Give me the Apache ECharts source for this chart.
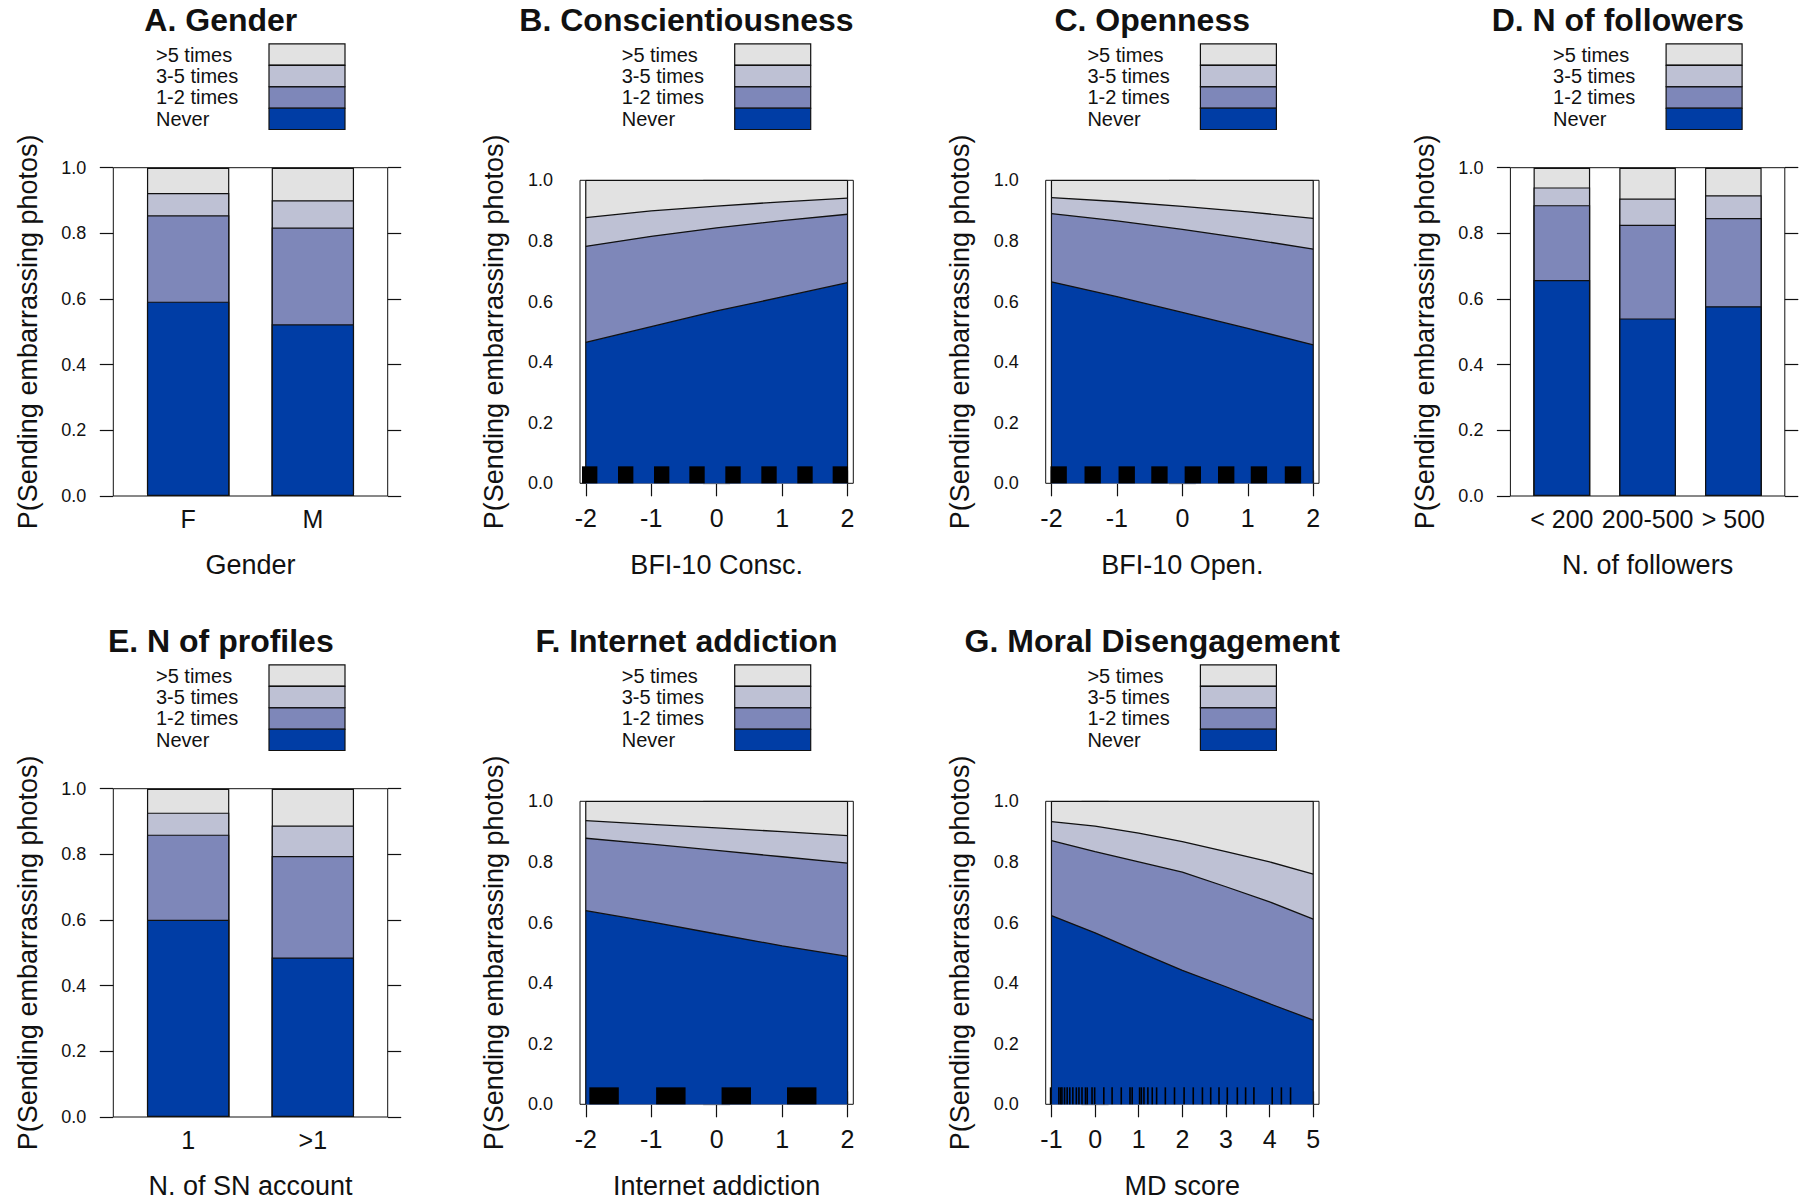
<!DOCTYPE html>
<html>
<head>
<meta charset="utf-8">
<script src="https://cdn.jsdelivr.net/npm/echarts@6/dist/echarts.min.js"></script>
<style>html,body{margin:0;padding:0;background:#fff}#c{width:1802px;height:1201px}</style>
</head>
<body>
<div id="c"></div>
<script>
// ---------------- DATA ----------------
const levels = ['Never', '1-2 times', '3-5 times', '>5 times'];
const legendOrder = ['>5 times', '3-5 times', '1-2 times', 'Never'];
const yTitle = 'P(Sending embarrassing photos)';

// A. Gender
const genderCats = ['F', 'M'];
const genderNever = [0.592, 0.523];
const gender12 = [0.263, 0.295];
const gender35 = [0.068, 0.083];
const gender5 = [0.077, 0.099];

// B. Conscientiousness
const conscX = [-2, -1, 0, 1, 2];
const conscTicks = [-2, -1, 0, 1, 2];
const conscNever = [0.465, 0.517, 0.569, 0.615, 0.662];
const consc12 = [0.317, 0.298, 0.274, 0.252, 0.226];
const consc35 = [0.095, 0.084, 0.072, 0.062, 0.053];
const consc5 = [0.123, 0.101, 0.085, 0.071, 0.059];
const conscRug = [-1.94, -1.39, -0.84, -0.30, 0.25, 0.80, 1.35, 1.89];

// C. Openness
const openX = [-2, -1, 0, 1, 2];
const openTicks = [-2, -1, 0, 1, 2];
const openNever = [0.665, 0.616, 0.564, 0.511, 0.457];
const open12 = [0.225, 0.250, 0.274, 0.296, 0.316];
const open35 = [0.053, 0.064, 0.076, 0.089, 0.101];
const open5 = [0.057, 0.070, 0.086, 0.104, 0.126];
const openRug = [-1.89, -1.37, -0.85, -0.35, 0.16, 0.67, 1.17, 1.69];

// D. N of followers
const follCats = ['< 200', '200-500', '> 500'];
const follNever = [0.658, 0.541, 0.578];
const foll12 = [0.228, 0.285, 0.269];
const foll35 = [0.054, 0.080, 0.069];
const foll5 = [0.060, 0.094, 0.084];

// E. N of profiles
const profCats = ['1', '>1'];
const profNever = [0.601, 0.486];
const prof12 = [0.259, 0.309];
const prof35 = [0.067, 0.093];
const prof5 = [0.073, 0.112];

// F. Internet addiction
const iaX = [-2, -1, 0, 1, 2];
const iaTicks = [-2, -1, 0, 1, 2];
const iaNever = [0.639, 0.602, 0.562, 0.523, 0.488];
const ia12 = [0.239, 0.257, 0.276, 0.294, 0.308];
const ia35 = [0.058, 0.065, 0.074, 0.083, 0.091];
const ia5 = [0.064, 0.076, 0.088, 0.100, 0.113];
const iaRug = [-1.72, -0.70, 0.30, 1.30];

// G. Moral Disengagement
const mdX = [-1, 0, 1, 2, 3, 4, 5];
const mdTicks = [-1, 0, 1, 2, 3, 4, 5];
const mdNever = [0.623, 0.566, 0.503, 0.442, 0.388, 0.332, 0.278];
const md12 = [0.247, 0.268, 0.297, 0.324, 0.330, 0.336, 0.333];
const md35 = [0.063, 0.084, 0.095, 0.101, 0.116, 0.132, 0.149];
const md5 = [0.067, 0.082, 0.105, 0.133, 0.166, 0.200, 0.240];
const mdRug = [-1.02, -0.83, -0.79, -0.76, -0.70, -0.64, -0.58, -0.51, -0.43, -0.37,
               -0.30, -0.22, -0.18, -0.07, -0.01, 0.20, 0.39, 0.60, 0.80, 0.85,
               1.02, 1.06, 1.12, 1.21, 1.31, 1.41, 1.61, 1.82, 2.04, 2.25,
               2.46, 2.65, 2.84, 3.03, 3.26, 3.45, 3.64, 4.06, 4.27, 4.48];

// ---------------- STYLE / LAYOUT ----------------
const FONT = "'Liberation Sans', Arial, Helvetica, sans-serif";
const LINE = '#111111';
const TXT = '#111111';
const COLORS = ['#003DA5', '#7E87B9', '#BEC1D4', '#E2E2E2'];
const colX = [0, 465.7, 931.4, 1397.1];
const rowY = [0, 621];
const RUG_H = 0.056;

const panels = [
  {col: 0, row: 0, type: 'bar', title: 'A. Gender', xlab: 'Gender', cats: genderCats,
   probs: [genderNever, gender12, gender35, gender5]},
  {col: 1, row: 0, type: 'area', title: 'B. Conscientiousness', xlab: 'BFI-10 Consc.', xs: conscX, ticks: conscTicks,
   pad: 0.088, probs: [conscNever, consc12, consc35, consc5], rug: conscRug, rugW: 0.235, rugMode: 'block'},
  {col: 2, row: 0, type: 'area', title: 'C. Openness', xlab: 'BFI-10 Open.', xs: openX, ticks: openTicks,
   pad: 0.088, probs: [openNever, open12, open35, open5], rug: openRug, rugW: 0.25, rugMode: 'block'},
  {col: 3, row: 0, type: 'bar', title: 'D. N of followers', xlab: 'N. of followers', cats: follCats,
   probs: [follNever, foll12, foll35, foll5]},
  {col: 0, row: 1, type: 'bar', title: 'E. N of profiles', xlab: 'N. of SN account', cats: profCats,
   probs: [profNever, prof12, prof35, prof5]},
  {col: 1, row: 1, type: 'area', title: 'F. Internet addiction', xlab: 'Internet addiction', xs: iaX, ticks: iaTicks,
   pad: 0.088, probs: [iaNever, ia12, ia35, ia5], rug: iaRug, rugW: 0.45, rugMode: 'block'},
  {col: 2, row: 1, type: 'area', title: 'G. Moral Disengagement', xlab: 'MD score', xs: mdX, ticks: mdTicks,
   pad: 0.132, probs: [mdNever, md12, md35, md5], rug: mdRug, rugMode: 'line'}
];

// cumulative probability P(response <= level k) at each point
function cumulative(probs, k) {
  return probs[0].map((_, j) => {
    let s = 0;
    for (let m = 0; m <= k; m++) s += probs[m][j];
    return Math.min(1, s);
  });
}

const option = {
  animation: false,
  backgroundColor: '#ffffff',
  textStyle: {fontFamily: FONT},
  title: [], legend: [], grid: [], xAxis: [], yAxis: [], series: []
};

panels.forEach((p, i) => {
  const ox = colX[p.col], oy = rowY[p.row];
  const isBar = p.type === 'bar';
  const g = isBar
    ? {left: ox + 113.3, top: oy + 167.7, width: 274.4, height: 328.3}
    : {left: ox + 114.3, top: oy + 180.3, width: 273.3, height: 303};
  option.grid.push(Object.assign({}, g, {
    show: true, borderColor: LINE, borderWidth: 1, backgroundColor: 'transparent',
    containLabel: false, outerBoundsMode: 'none'
  }));

  option.title.push({
    text: p.title, left: ox + 220.8, top: oy + 4, textAlign: 'center', padding: 0,
    textStyle: {fontSize: 32, fontWeight: 'bold', color: TXT, fontFamily: FONT}
  });

  option.legend.push({
    orient: 'vertical', left: ox + 156, top: oy + 43.3, padding: 0,
    itemWidth: 76, itemHeight: 21.25, itemGap: -1, align: 'right', icon: 'rect',
    selectedMode: false, data: legendOrder,
    formatter: n => '{t|' + n + '}',
    textStyle: {color: TXT, fontSize: 20, lineHeight: 19, fontFamily: FONT,
      rich: {t: {width: 108, align: 'left', fontSize: 20, lineHeight: 19, fontFamily: FONT, color: TXT}}},
    itemStyle: {borderColor: LINE, borderWidth: 1.2}
  });

  let xmin, xmax;
  if (isBar) { xmin = 0.4; xmax = p.cats.length + 0.6; }
  else { xmin = p.xs[0] - p.pad; xmax = p.xs[p.xs.length - 1] + p.pad; }

  const nameStyle = {fontSize: 27, color: TXT, fontFamily: FONT};
  option.xAxis.push({
    gridIndex: i, type: 'value', position: 'bottom', min: xmin, max: xmax,
    axisLine: {show: false}, splitLine: {show: false},
    axisTick: isBar ? {show: false}
      : {show: true, inside: false, length: 13, customValues: p.ticks, lineStyle: {color: LINE, width: 1.2}},
    axisLabel: isBar
      ? {show: true, margin: 10, fontSize: 25, color: TXT, fontFamily: FONT,
         customValues: p.cats.map((c, k) => k + 1), formatter: v => p.cats[Math.round(v) - 1]}
      : {show: true, margin: 22, fontSize: 25, color: TXT, fontFamily: FONT,
         customValues: p.ticks, formatter: v => String(v)},
    name: p.xlab, nameLocation: 'middle', nameGap: isBar ? 55.5 : 68, nameMoveOverlap: false,
    nameTextStyle: nameStyle
  });
  option.xAxis.push({
    gridIndex: i, type: 'value', position: 'top', min: xmin, max: xmax, show: !isBar,
    axisLine: {show: false}, splitLine: {show: false}, axisLabel: {show: false},
    axisTick: isBar ? {show: false}
      : {show: true, inside: false, length: 13, customValues: p.ticks, lineStyle: {color: LINE, width: 1.2}}
  });
  option.yAxis.push({
    gridIndex: i, type: 'value', position: 'left', min: 0, max: 1, interval: 0.2,
    axisLine: {show: false}, splitLine: {show: false},
    axisTick: {show: true, inside: false, length: 13.5, lineStyle: {color: LINE, width: 1.2}},
    axisLabel: {show: true, margin: 27, fontSize: 18, color: TXT, fontFamily: FONT, formatter: v => v.toFixed(1)},
    name: yTitle, nameLocation: 'middle', nameRotate: 90, nameGap: isBar ? 71.5 : 72.5, nameMoveOverlap: false,
    nameTextStyle: nameStyle
  });
  option.yAxis.push({
    gridIndex: i, type: 'value', position: 'right', min: 0, max: 1, interval: 0.2,
    axisLine: {show: false}, splitLine: {show: false}, axisLabel: {show: false},
    axisTick: {show: true, inside: false, length: 13.5, lineStyle: {color: LINE, width: 1.2}}
  });

  const xb = 2 * i, yl = 2 * i;
  // draw from the highest level down so that lower (cumulative) bands lie on top
  for (let k = levels.length - 1; k >= 0; k--) {
    const cum = cumulative(p.probs, k);
    if (isBar) {
      const unitPx = g.width / (xmax - xmin);
      option.series.push({
        type: 'bar', name: levels[k], xAxisIndex: xb, yAxisIndex: yl,
        barWidth: 0.66 * unitPx, barGap: '-100%', silent: true,
        itemStyle: {color: COLORS[k], borderColor: LINE, borderWidth: 1.2},
        data: cum.map((v, j) => [j + 1, v])
      });
    } else {
      option.series.push({
        type: 'line', name: levels[k], xAxisIndex: xb, yAxisIndex: yl,
        symbol: 'none', showSymbol: false, silent: true,
        itemStyle: {color: COLORS[k]},
        lineStyle: {color: LINE, width: 1.3},
        areaStyle: {color: COLORS[k], opacity: 1},
        data: cum.map((v, j) => [p.xs[j], v])
      });
    }
  }
  if (!isBar) {
    option.series.push({
      type: 'custom', xAxisIndex: xb, yAxisIndex: yl, z: 5, silent: true,
      data: [[p.xs[0], 0], [p.xs[p.xs.length - 1], 0]],
      renderItem: (params, api) => {
        const a = api.coord([api.value(0), 0]);
        const b = api.coord([api.value(0), 1]);
        return {type: 'line', shape: {x1: a[0], y1: a[1], x2: b[0], y2: b[1]},
                style: {stroke: LINE, lineWidth: 1.2}};
      }
    });
    option.series.push({
      type: 'custom', xAxisIndex: xb, yAxisIndex: yl, z: 6, silent: true,
      data: p.rug.map(v => [v, 0]),
      renderItem: (params, api) => {
        const x = api.value(0);
        if (p.rugMode === 'block') {
          const a = api.coord([x - p.rugW / 2, 0]);
          const b = api.coord([x + p.rugW / 2, RUG_H]);
          return {type: 'rect', shape: {x: a[0], y: b[1], width: b[0] - a[0], height: a[1] - b[1]},
                  style: {fill: '#000'}};
        }
        const a = api.coord([x, 0]);
        const b = api.coord([x, RUG_H]);
        return {type: 'line', shape: {x1: a[0], y1: a[1], x2: b[0], y2: b[1]},
                style: {stroke: '#000', lineWidth: 1.6}};
      }
    });
  }
});

const chart = echarts.init(document.getElementById('c'), null, {renderer: 'svg', width: 1802, height: 1201});
chart.setOption(option);
</script>
</body>
</html>
